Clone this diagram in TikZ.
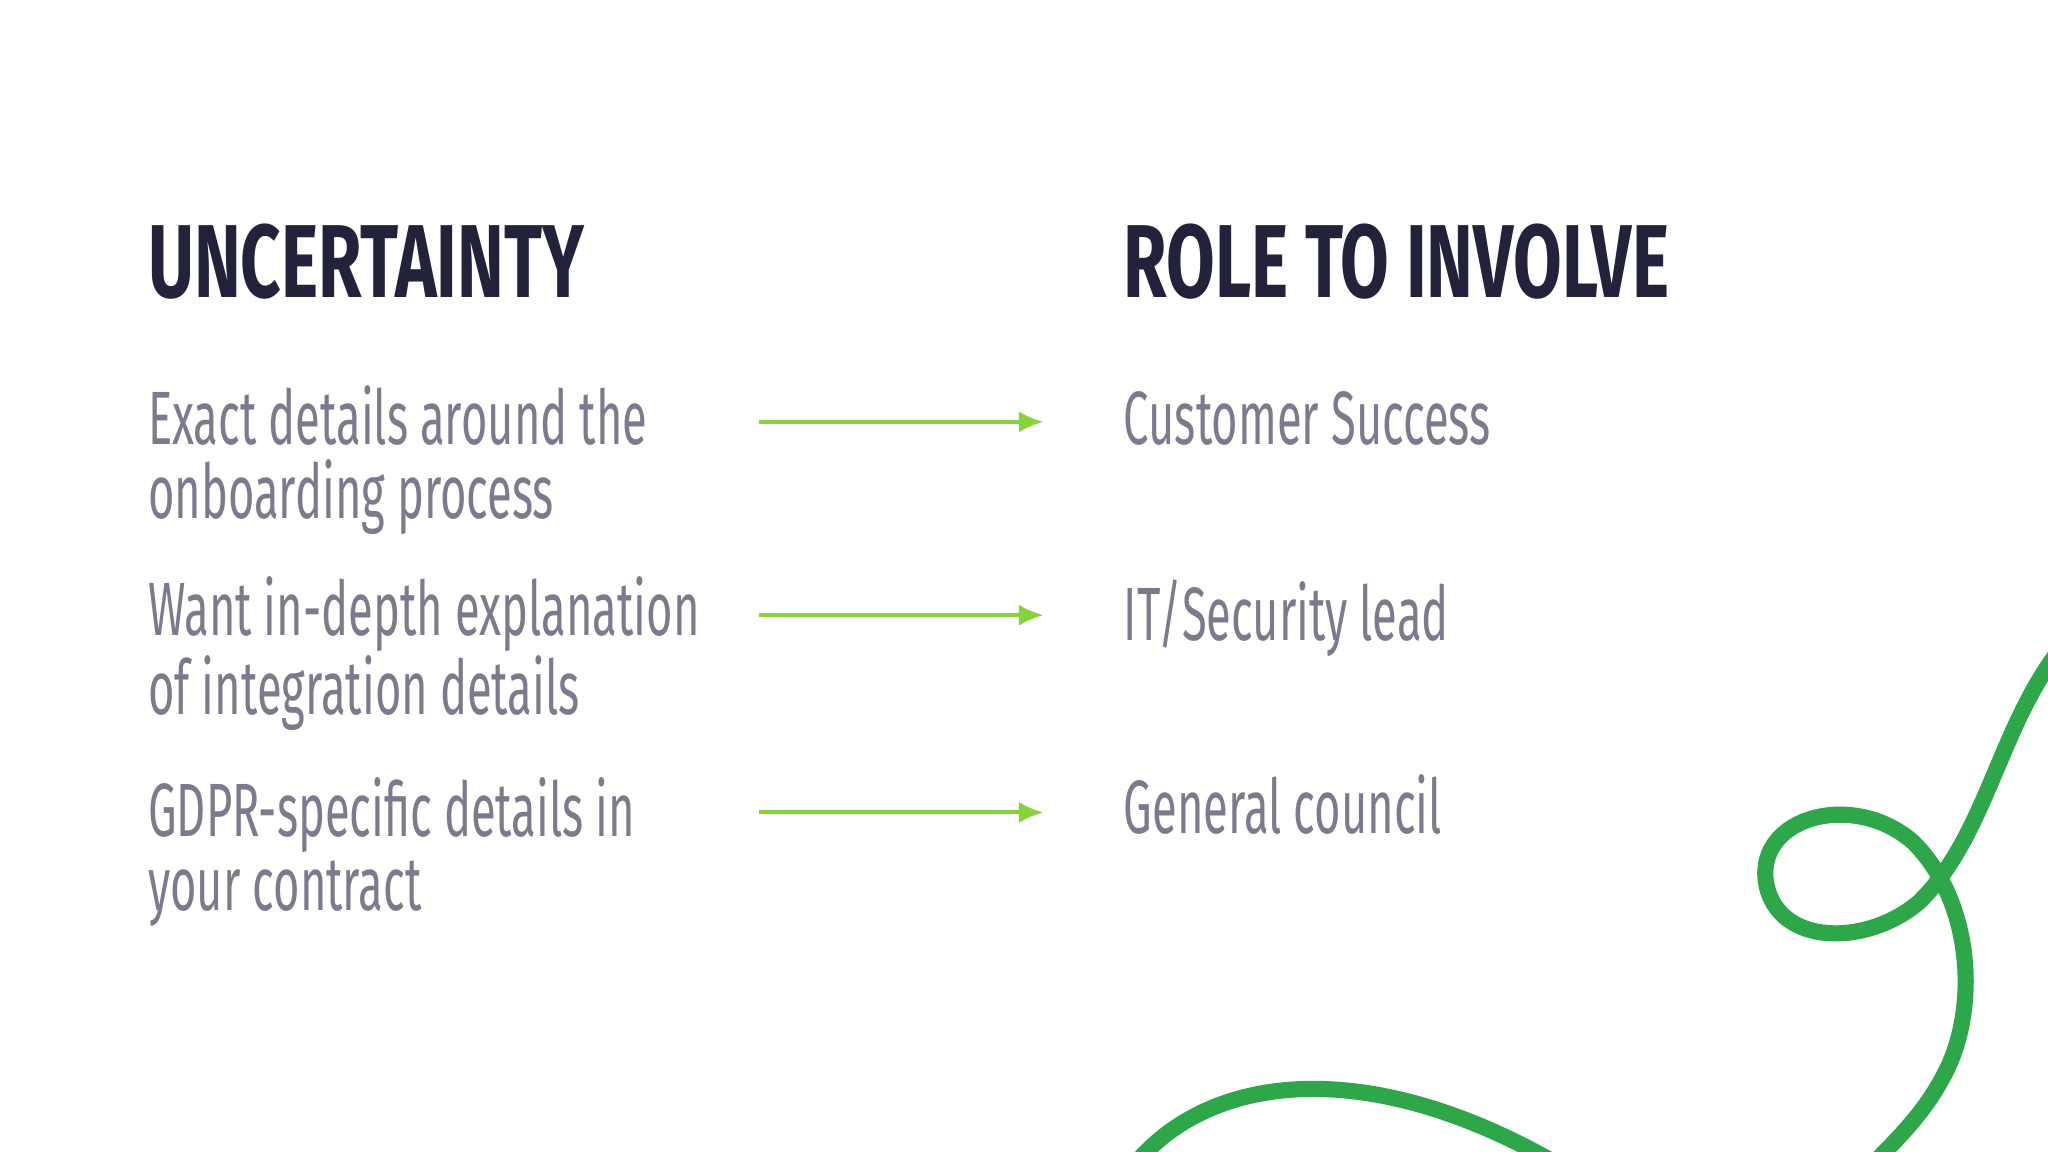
\documentclass[tikz,border=0pt]{standalone}
\usetikzlibrary{arrows.meta}
\usepackage{fontspec}
\setmainfont[FakeStretch=0.6]{Fira Sans}
\newfontfamily\headfont[FakeStretch=0.68]{Fira Sans}
\begin{document}
\begin{tikzpicture}[x=0.01306cm,y=-0.01306cm]
\definecolor{navy}{HTML}{22223A}
\definecolor{txt}{HTML}{7C7B8E}
\definecolor{arr}{HTML}{86D33A}
\definecolor{curve}{HTML}{2EA64A}
\tikzset{head/.style={anchor=base west,inner sep=0,text=navy,font=\headfont\fontsize{29.5}{30}\selectfont\bfseries},
 body/.style={anchor=base west,inner sep=0,text=txt,align=left,font=\fontsize{21.5}{21.1}\selectfont},
 conn/.style={draw=arr,line width=1.1pt,-{Latex[length=7pt,width=6pt]}}}
\useasboundingbox[fill=white] (0,0) rectangle (1568,882);
\node[head] (h1) at (113,228) {UNCERTAINTY};
\node[head] (h2) at (860,228) {ROLE TO INVOLVE};
\node[body] (l1) at (113,397) {Exact details around the\\onboarding process};
\node[body] (l2) at (113,547) {Want in-depth explanation\\of integration details};
\node[body] (l3) at (113,697) {GDPR-specific details in\\your contract};
\node[body] (r1) at (860,340) {Customer Success};
\node[body] (r2) at (860,490) {IT/Security lead};
\node[body] (r3) at (860,638) {General council};
\coordinate (a1) at (581,323); \coordinate (b1) at (799,323);
\coordinate (a2) at (581,471); \coordinate (b2) at (799,471);
\coordinate (a3) at (581,622); \coordinate (b3) at (799,622);
\draw[conn] (a1) -- (b1);
\draw[conn] (a2) -- (b2);
\draw[conn] (a3) -- (b3);
\begin{scope}
\clip (0,0) rectangle (1568,882);
\draw[curve,line width=4.6pt,line cap=round] (870,890) .. controls (930,820) and (1050,810) .. (1190,890);
\draw[curve,line width=4.6pt,line cap=round] (1575,500) .. controls (1530,560) and (1520,640) .. (1470,690)
 .. controls (1430,725) and (1360,725) .. (1352,675)
 .. controls (1345,625) and (1420,605) .. (1465,645)
 .. controls (1510,690) and (1515,770) .. (1490,820)
 .. controls (1475,850) and (1455,870) .. (1430,895);
\end{scope}
\end{tikzpicture}
\end{document}
